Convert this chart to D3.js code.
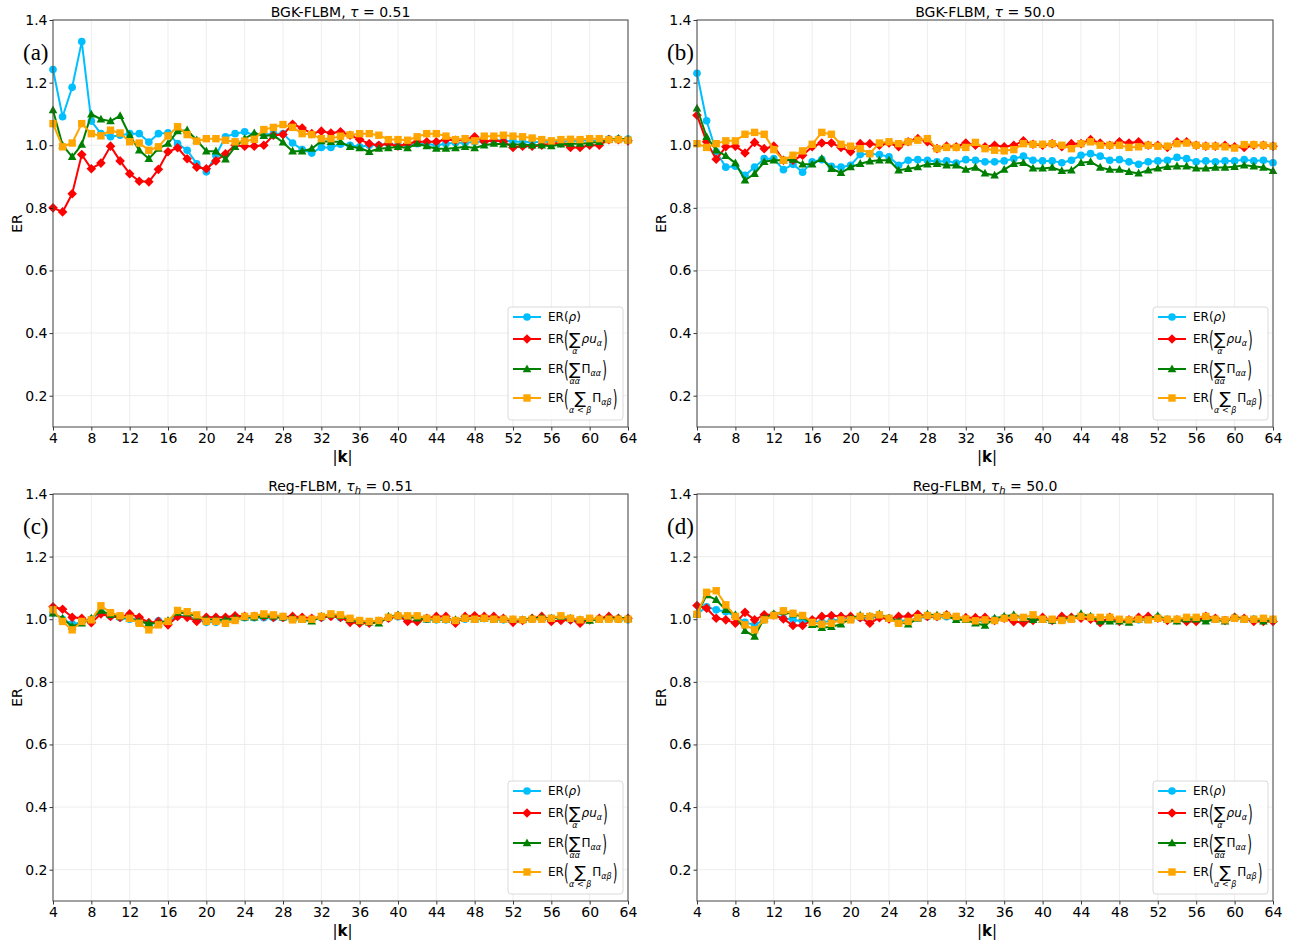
<!DOCTYPE html>
<html><head><meta charset="utf-8">
<script src="https://cdn.jsdelivr.net/npm/d3@7"></script>
<style>body{margin:0;background:#fff}</style>
</head><body>
<svg id="c" width="1305" height="944"></svg>
<script>
// ---------- data ----------
const kValues = [4,5,6,7,8,9,10,11,12,13,14,15,16,17,18,19,20,21,22,23,24,25,26,27,28,29,30,31,32,33,34,35,36,37,38,39,40,41,42,43,44,45,46,47,48,49,50,51,52,53,54,55,56,57,58,59,60,61,62,63,64];
const xTicks = [4,8,12,16,20,24,28,32,36,40,44,48,52,56,60,64];
const yTicks = [0.2,0.4,0.6,0.8,1.0,1.2,1.4];
const seriesNames = ["rho","mom","diag","off"];

// panel (a) BGK-FLBM tau=0.51
const a_rho = [1.242,1.091,1.185,1.331,1.077,1.037,1.027,1.032,1.037,1.037,1.01,1.037,1.04,1.005,0.984,0.941,0.915,0.968,1.027,1.037,1.043,1.032,1.034,1.037,1.037,1.007,0.986,0.975,0.993,0.993,1.003,
  1.0,0.995,1.0,1.0,1.005,1.0,1.0,1.005,1.005,1.0,1.005,1.008,1.008,1.01,1.012,1.015,1.015,1.012,1.01,1.01,1.01,1.012,1.012,1.013,1.015,1.015,1.016,1.02,1.02,1.02];
const a_mom = [0.80,0.787,0.845,0.97,0.925,0.943,0.997,0.95,0.909,0.885,0.883,0.923,0.979,0.992,0.957,0.93,0.925,0.95,0.973,1.0,0.997,0.997,1.0,1.032,1.034,1.067,1.055,1.037,1.045,1.039,1.043,
  1.032,1.018,1.005,1.0,1.005,0.997,1.005,1.011,1.011,1.011,1.018,1.016,1.018,1.027,1.011,1.016,1.011,0.993,0.997,0.997,1.0,1.005,1.007,0.993,0.993,1.0,1.0,1.018,1.018,1.014];
const a_diag = [1.112,1.0,0.963,1.002,1.099,1.083,1.077,1.094,1.032,0.984,0.957,0.989,1.005,1.045,1.048,1.016,0.981,0.981,0.955,0.995,1.021,1.039,1.03,1.032,1.009,0.981,0.981,0.989,1.013,1.011,1.011,
  0.995,0.991,0.979,0.989,0.991,0.995,0.991,1.005,0.997,0.989,0.989,0.991,0.995,0.991,1.0,1.005,1.003,1.002,1.002,1.0,1.0,0.997,1.003,1.005,1.005,1.007,1.011,1.018,1.021,1.018];
const a_off = [1.069,0.995,1.007,1.069,1.037,1.03,1.048,1.039,1.011,1.007,0.984,0.995,1.03,1.059,1.034,1.013,1.021,1.021,1.016,1.011,1.013,1.019,1.05,1.057,1.066,1.057,1.037,1.034,1.021,
  1.021,1.029,1.033,1.037,1.037,1.032,1.018,1.018,1.016,1.027,1.037,1.037,1.029,1.018,1.021,1.014,1.029,1.029,1.032,1.029,1.027,1.023,1.018,1.014,1.018,1.019,1.018,1.021,1.021,1.018,1.018,1.016];

// panel (b) BGK-FLBM tau=50.0
const b_rho = [1.23,1.078,0.979,0.93,0.933,0.904,0.93,0.957,0.957,0.922,0.939,0.914,0.947,0.954,0.933,0.93,0.936,0.97,0.973,0.97,0.963,0.936,0.952,0.954,0.952,0.947,0.95,0.943,0.954,
  0.952,0.947,0.947,0.95,0.957,0.965,0.952,0.95,0.95,0.944,0.952,0.968,0.973,0.965,0.952,0.954,0.947,0.939,0.947,0.95,0.952,0.961,0.957,0.947,0.95,0.947,0.95,0.95,0.954,0.95,0.952,0.944];
const b_mom = [1.096,1.011,0.955,0.995,0.997,0.975,1.009,0.989,0.997,0.952,0.952,0.968,0.995,1.007,1.007,0.993,0.979,1.005,1.005,1.0,1.007,0.995,1.011,1.021,1.011,0.989,0.997,0.995,1.007,
  1.0,0.995,1.0,0.995,1.0,1.014,1.003,1.0,1.005,0.995,1.005,1.005,1.018,1.007,1.0,1.011,1.007,1.011,1.0,1.0,0.993,1.011,1.011,1.0,0.997,0.997,1.0,0.995,0.993,1.0,1.0,0.997];
const b_diag = [1.118,1.027,0.984,0.966,0.943,0.888,0.909,0.947,0.952,0.952,0.954,0.939,0.939,0.957,0.925,0.912,0.93,0.941,0.949,0.952,0.952,0.92,0.925,0.93,0.939,0.941,0.936,0.936,0.922,
  0.929,0.91,0.904,0.922,0.941,0.944,0.926,0.926,0.929,0.918,0.92,0.944,0.947,0.929,0.922,0.922,0.915,0.91,0.92,0.926,0.931,0.933,0.933,0.926,0.926,0.929,0.929,0.931,0.936,0.933,0.929,0.918];
const b_off = [1.005,0.993,1.005,1.014,1.014,1.035,1.041,1.035,0.986,0.952,0.968,0.982,1.003,1.041,1.035,1.003,0.997,0.989,0.973,1.007,1.011,1.005,1.011,1.016,1.021,0.989,0.993,0.993,0.993,
  1.009,0.989,0.984,0.982,0.986,1.005,1.003,1.003,1.005,1.0,0.989,1.005,1.011,1.0,1.0,1.0,0.993,0.995,1.0,0.997,0.997,1.005,1.007,1.0,0.997,0.997,0.995,0.991,1.002,1.002,1.0,0.997];

// panel (c) Reg-FLBM tau_h=0.51
const c_rho = [1.02,1.0,0.985,0.99,1.0,1.025,1.01,1.005,1.0,1.0,0.98,0.995,0.99,1.01,1.01,1.0,0.99,0.99,0.995,1.0,1.005,1.005,1.005,1.005,1.005,1.0,1.0,0.998,1.005,1.01,1.005,
  0.995,0.993,0.99,0.993,1.003,1.008,1.008,1.005,1.0,0.998,0.998,0.996,1.0,1.0,1.002,1.0,0.998,0.996,0.998,1.0,1.002,1.003,1.005,0.998,0.996,0.998,1.0,1.002,1.0,0.998];
const c_mom = [1.04,1.032,1.006,1.003,0.989,1.017,1.009,1.006,1.017,1.006,0.989,0.993,0.982,1.009,1.006,0.993,1.006,1.006,1.006,1.011,1.009,1.009,1.009,1.006,1.006,1.009,1.006,1.003,1.006,1.009,1.006,
  0.99,0.987,0.987,0.993,1.003,1.011,0.993,0.993,1.003,1.009,1.009,0.987,1.009,1.011,1.009,1.009,1.003,0.99,0.996,1.003,1.009,0.993,0.996,0.998,0.987,0.998,1.003,1.009,1.003,1.003];
const c_diag = [1.019,1.003,0.977,0.987,1.003,1.028,1.014,1.009,1.003,0.993,0.987,0.987,0.996,1.021,1.019,1.009,1.0,0.998,0.998,1.003,1.006,1.006,1.011,1.009,1.006,1.003,1.0,0.993,1.009,1.014,1.011,
  1.0,0.993,0.99,0.987,1.009,1.013,1.009,1.003,1.0,1.0,0.998,0.998,1.003,1.0,1.001,1.0,1.0,0.998,0.998,1.003,1.005,1.003,1.008,1.003,0.998,0.996,1.0,1.003,1.003,1.003];
const c_off = [1.03,0.993,0.966,0.993,0.998,1.043,1.021,1.011,1.003,0.987,0.966,0.982,0.993,1.028,1.024,1.014,0.993,0.993,0.987,0.996,1.009,1.011,1.017,1.014,1.009,0.998,1.0,1.0,1.009,1.017,1.014,
  1.003,0.996,0.993,0.996,1.006,1.011,1.011,1.011,1.003,1.0,1.0,0.996,1.003,1.0,1.003,1.0,1.0,1.0,0.998,1.0,1.0,1.003,1.011,1.003,0.998,1.003,1.0,1.0,1.0,1.0];

// panel (d) Reg-FLBM tau_h=50.0
const d_rho = [1.016,1.04,1.03,1.024,1.009,0.99,0.982,0.998,1.014,1.003,0.998,0.993,0.995,0.99,0.995,1.0,1.003,1.005,1.005,1.008,1.003,0.995,0.995,1.003,1.008,1.008,1.008,1.002,1.0,0.995,0.992,
  1.0,1.005,1.008,1.003,1.0,1.0,0.998,1.0,1.003,1.01,1.006,0.998,0.996,0.996,0.995,0.998,1.0,1.006,1.0,0.996,0.998,1.0,0.998,1.0,0.998,1.003,1.0,1.0,0.996,0.998];
const d_mom = [1.044,1.035,1.003,0.998,0.987,1.022,0.998,1.014,1.014,1.001,0.98,0.98,0.998,1.009,1.012,1.009,1.009,1.005,0.987,1.005,1.001,1.009,1.009,1.016,1.009,1.009,1.014,1.005,1.005,1.005,1.006,
  0.996,1.003,0.993,0.989,0.996,1.006,0.996,1.009,1.006,1.003,1.0,0.989,1.006,0.993,0.998,1.006,1.009,1.003,0.996,0.998,0.993,0.993,1.009,1.003,0.996,1.006,1.003,0.993,0.993,0.993];
const d_diag = [1.016,1.077,1.062,1.03,1.014,0.963,0.945,1.003,1.016,1.024,1.016,1.009,0.982,0.973,0.976,0.984,1.003,1.012,1.009,1.016,1.003,0.993,0.984,1.003,1.016,1.012,1.012,0.998,0.998,0.987,0.98,
  1.003,1.009,1.014,1.003,0.998,0.998,0.996,1.0,1.003,1.017,1.009,0.993,0.993,0.993,0.989,0.998,1.0,1.011,0.998,0.993,1.0,1.0,0.993,1.0,0.993,1.006,1.0,1.0,0.993,0.998];
const d_off = [1.016,1.086,1.091,1.046,1.009,0.982,0.966,0.998,1.012,1.027,1.019,1.012,0.99,0.984,0.987,0.998,0.998,1.009,1.009,1.014,1.003,0.987,0.993,1.005,1.012,1.009,1.012,1.009,1.001,0.995,0.998,
  0.996,1.003,1.006,1.006,1.014,1.0,1.0,0.996,1.0,1.009,1.006,1.006,1.006,1.0,0.998,1.0,0.998,1.003,1.0,1.0,1.006,1.006,1.009,1.0,0.998,1.003,1.0,1.0,1.003,1.0];

const panelLetters = ["(a)","(b)","(c)","(d)"];
const panelMethods = ["BGK-FLBM","BGK-FLBM","Reg-FLBM","Reg-FLBM"];
const panelTauSub = ["","","h","h"];
const panelTauVal = ["0.51","50.0","0.51","50.0"];
const panelData = [[a_rho,a_mom,a_diag,a_off],[b_rho,b_mom,b_diag,b_off],[c_rho,c_mom,c_diag,c_off],[d_rho,d_mom,d_diag,d_off]];

// ---------- style / layout ----------
const FONT = "DejaVu Sans";
const colors = ["#00BFFF","#FF0000","#008000","#FFA500"];
const frames = [
  {x0:53, x1:628, y0:20, y1:427},
  {x0:697, x1:1273, y0:20, y1:427},
  {x0:53, x1:628, y0:494, y1:901},
  {x0:697, x1:1273, y0:494, y1:901}
];
const svg = d3.select("#c");

function markerPath(type){
  if(type===0) return d3.symbol(d3.symbolCircle, 46)();
  if(type===1) return "M0,-4.8L4.8,0L0,4.8L-4.8,0Z";
  if(type===2) return "M0,-4.6L4.3,3.2L-4.3,3.2Z";
  return "M-3.7,-3.7L3.7,-3.7L3.7,3.7L-3.7,3.7Z";
}

function drawLegendLabel(g, x, yc, type){
  let cx = x;
  const yb = yc + 4;
  const txt = (t, fs, px, py, it, anchor) => {
    const el = g.append("text").attr("x", px).attr("y", py).attr("font-family", FONT)
      .attr("font-size", fs).attr("fill", "#000").text(t);
    if(it) el.attr("font-style","italic");
    if(anchor) el.attr("text-anchor", anchor);
    return el;
  };
  const adv = (t, fs, it, dy) => { const el = txt(t, fs, cx, yb + (dy||0), it); cx += el.node().getComputedTextLength(); return el; };
  adv("ER", 12);
  if(type===0){ adv("(",12); adv("ρ",12,true); adv(")",12); return; }
  const paren = (ch) => {
    const gg = g.append("g").attr("transform", `translate(${cx},${yc+1.5}) scale(1,1.95)`);
    const el = gg.append("text").attr("x",0).attr("y",3.6).attr("font-family",FONT).attr("font-size",12).text(ch);
    cx += el.node().getComputedTextLength() + 0.5;
  };
  paren("(");
  const subs = ["α","αα","α < β"][type-1];
  const sumEl = txt("∑", 17, 0, yb + 1.5);
  const subEl = txt(subs, 8, 0, yb + 10.5, true);
  const ws = sumEl.node().getComputedTextLength();
  const wsub = subEl.node().getComputedTextLength();
  const w = Math.max(ws, wsub);
  sumEl.attr("x", cx + w/2).attr("text-anchor","middle");
  subEl.attr("x", cx + w/2).attr("text-anchor","middle");
  cx += w + 1;
  if(type===1){ adv("ρu",12,true); adv("α",8,true,3); }
  else if(type===2){ adv("Π",12); adv("αα",8,true,3); }
  else { adv("Π",12); adv("αβ",8,true,3); }
  cx += 1;
  paren(")");
}

panelData.forEach((series, pi) => {
  const f = frames[pi];
  const x = d3.scaleLinear().domain([4,64]).range([f.x0, f.x1]);
  const y = d3.scaleLinear().domain([0.1,1.4]).range([f.y1, f.y0]);
  const g = svg.append("g");

  // grid
  g.append("g").selectAll("line").data(xTicks).join("line")
    .attr("x1", d=>x(d)).attr("x2", d=>x(d)).attr("y1", f.y0).attr("y2", f.y1)
    .attr("stroke","#ebebeb").attr("stroke-width",0.9);
  g.append("g").selectAll("line").data(yTicks).join("line")
    .attr("y1", d=>y(d)).attr("y2", d=>y(d)).attr("x1", f.x0).attr("x2", f.x1)
    .attr("stroke","#ebebeb").attr("stroke-width",0.9);

  // series
  const clip = "clip"+pi;
  svg.append("defs").append("clipPath").attr("id",clip).append("rect")
    .attr("x",f.x0-6).attr("y",f.y0).attr("width",f.x1-f.x0+12).attr("height",f.y1-f.y0);
  const sg = g.append("g").attr("clip-path",`url(#${clip})`);
  series.forEach((vals, si) => {
    const pts = kValues.map((k,i)=>[k, vals[i]]);
    sg.append("path").datum(pts)
      .attr("d", d3.line().x(d=>x(d[0])).y(d=>y(d[1])))
      .attr("fill","none").attr("stroke",colors[si]).attr("stroke-width",2).attr("stroke-linejoin","round");
    sg.append("g").selectAll("path").data(pts).join("path")
      .attr("transform", d=>`translate(${x(d[0])},${y(d[1])})`)
      .attr("d", markerPath(si)).attr("fill",colors[si]);
  });

  // axes
  const xa = g.append("g").attr("transform",`translate(0,${f.y1})`)
    .call(d3.axisBottom(x).tickValues(xTicks).tickSize(3.5).tickPadding(2.5).tickFormat(d3.format("d")));
  const ya = g.append("g").attr("transform",`translate(${f.x0},0)`)
    .call(d3.axisLeft(y).tickValues(yTicks).tickSize(3.5).tickPadding(2).tickFormat(d3.format(".1f")));
  [xa,ya].forEach(a=>{
    a.select(".domain").remove();
    a.selectAll("text").attr("font-family",FONT).attr("font-size",14).attr("fill","#000");
    a.selectAll("line").attr("stroke","#000").attr("stroke-width",0.8);
  });
  // frame
  g.append("rect").attr("x",f.x0).attr("y",f.y0).attr("width",f.x1-f.x0).attr("height",f.y1-f.y0)
    .attr("fill","none").attr("stroke","#444").attr("stroke-width",1);

  // title
  const cxm = (f.x0+f.x1)/2;
  const t = g.append("text").attr("x",cxm).attr("y",f.y0-3.5).attr("text-anchor","middle")
    .attr("font-family",FONT).attr("font-size",14).attr("fill","#000");
  t.append("tspan").text(panelMethods[pi]+", ");
  t.append("tspan").attr("font-style","italic").text("τ");
  if(panelTauSub[pi]){
    t.append("tspan").attr("font-style","italic").attr("font-size",10).attr("dy",3).text(panelTauSub[pi]);
    t.append("tspan").attr("dy",-3).text(" = "+panelTauVal[pi]);
  } else {
    t.append("tspan").text(" = "+panelTauVal[pi]);
  }

  // axis labels
  const xl = g.append("text").attr("x",cxm+2).attr("y",f.y1+35).attr("text-anchor","middle")
    .attr("font-family",FONT).attr("font-size",15).attr("fill","#000");
  xl.append("tspan").text("|");
  xl.append("tspan").attr("font-weight","bold").text("k");
  xl.append("tspan").text("|");
  g.append("text").attr("transform",`translate(${f.x0-31},${(f.y0+f.y1)/2}) rotate(-90)`)
    .attr("text-anchor","middle").attr("font-family",FONT).attr("font-size",14).attr("fill","#000").text("ER");

  // panel letter
  g.append("text").attr("x",f.x0-30).attr("y",f.y0+40).attr("font-family","Liberation Serif")
    .attr("font-size",23).attr("fill","#000").text(panelLetters[pi]);

  // legend
  const lx = f.x1-120, ly = f.y1-120;
  const lg = g.append("g");
  lg.append("rect").attr("x",lx).attr("y",ly).attr("width",115).attr("height",113).attr("rx",3)
    .attr("fill","#fff").attr("fill-opacity",0.85).attr("stroke","#d6d6d6").attr("stroke-width",0.9);
  const rowY = [ly+10, ly+32, ly+62, ly+91];
  seriesNames.forEach((nm, si) => {
    const yc = rowY[si];
    lg.append("line").attr("x1",lx+5).attr("x2",lx+33).attr("y1",yc).attr("y2",yc)
      .attr("stroke",colors[si]).attr("stroke-width",2);
    lg.append("path").attr("transform",`translate(${lx+19},${yc})`).attr("d",markerPath(si)).attr("fill",colors[si]);
    drawLegendLabel(lg, lx+40, yc, si);
  });
});
</script>
</body></html>
